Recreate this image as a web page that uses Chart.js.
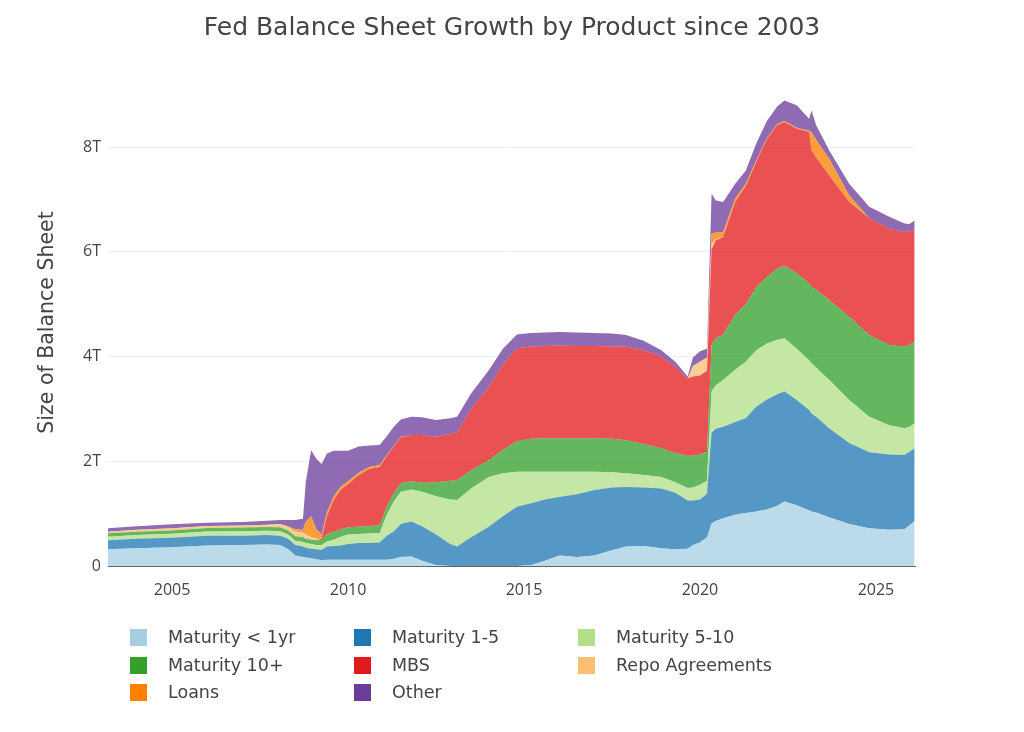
<!DOCTYPE html>
<html>
<head>
<meta charset="utf-8">
<script src="https://cdn.jsdelivr.net/npm/chart.js@4.4.1/dist/chart.umd.min.js"></script>
<style>
html,body{margin:0;padding:0;background:#fff;}
#wrap{position:relative;width:1024px;height:732px;overflow:hidden;}
#c{position:absolute;left:0;top:0;}
#legend{position:absolute;left:0;top:0;width:1024px;height:732px;pointer-events:none;font-family:"DejaVu Sans",Verdana,sans-serif;font-size:17.5px;color:#444;}
.item{position:absolute;display:flex;align-items:center;white-space:nowrap;height:22px;line-height:22px;}
.sw{width:17px;height:17px;margin-right:21px;flex:none;}
</style>
</head>
<body>
<div id="wrap"><canvas id="c" width="1024" height="732"></canvas><div id="legend"></div></div>
<script>
// Decimal-year positions of the sampled weeks
const dates = [2003.18, 2004.0, 2005.0, 2006.0, 2007.0, 2007.7, 2008.07, 2008.3, 2008.5, 2008.72,
  2008.8, 2008.95, 2009.1, 2009.25, 2009.4, 2009.6, 2009.8, 2010.0, 2010.3, 2010.6,
  2010.9, 2011.1, 2011.3, 2011.5, 2011.8, 2012.1, 2012.5, 2012.9, 2013.1, 2013.5,
  2014.0, 2014.4, 2014.8, 2015.2, 2015.6, 2016.0, 2016.5, 2017.0, 2017.5, 2017.9,
  2018.4, 2018.9, 2019.3, 2019.65, 2019.8, 2020.0, 2020.2, 2020.33, 2020.45, 2020.66,
  2021.0, 2021.3, 2021.6, 2021.9, 2022.2, 2022.4, 2022.75, 2023.1, 2023.17, 2023.3,
  2023.67, 2024.24, 2024.81, 2025.38, 2025.81, 2025.95, 2026.1];

// Values in trillions of dollars
const maturityUnder1 = [.32,.34,.36,.39,.40,.41,.40,.32,.20,.17,
  .16,.15,.13,.11,.12,.12,.12,.12,.12,.12,
  .12,.12,.14,.17,.18,.10,.02,0,0,0,
  0,0,0,.02,.10,.20,.17,.20,.30,.37,
  .38,.34,.32,.33,.40,.45,.55,.81,.86,.91,
  .98,1.01,1.04,1.08,1.15,1.23,1.16,1.06,1.04,1.02,
  .93,.80,.72,.69,.70,.78,.86];
const maturity1to5 = [.17,.18,.18,.19,.18,.18,.18,.20,.20,.20,
  .19,.18,.19,.20,.25,.26,.27,.30,.32,.32,
  .33,.46,.52,.63,.67,.66,.58,.42,.37,.55,
  .75,.95,1.13,1.18,1.17,1.12,1.20,1.25,1.20,1.14,
  1.12,1.14,1.08,.92,.85,.82,.83,1.74,1.76,1.75,
  1.77,1.81,2.0,2.10,2.13,2.10,2.01,1.92,1.87,1.83,
  1.70,1.55,1.45,1.44,1.42,1.40,1.39];
const maturity5to10 = [.07,.07,.075,.08,.085,.085,.085,.08,.08,.09,
  .09,.09,.08,.09,.10,.12,.17,.18,.17,.18,
  .18,.40,.57,.62,.61,.66,.73,.85,.89,.93,
  .95,.82,.67,.60,.53,.48,.43,.35,.29,.26,
  .24,.22,.20,.24,.25,.28,.25,.78,.83,.89,
  1.0,1.08,1.08,1.07,1.04,1.02,.98,.95,.96,.94,
  .92,.82,.68,.56,.51,.48,.47];
const maturity10plus = [.065,.065,.065,.065,.07,.07,.075,.08,.09,.09,
  .08,.08,.09,.09,.14,.16,.14,.14,.14,.14,
  .15,.16,.16,.16,.16,.17,.27,.36,.38,.35,
  .32,.45,.58,.63,.64,.64,.64,.64,.64,.63,
  .59,.55,.56,.61,.61,.58,.55,.89,.90,.87,
  1.05,1.10,1.21,1.27,1.36,1.39,1.44,1.47,1.46,1.49,
  1.53,1.59,1.56,1.53,1.56,1.56,1.56];
const mbs = [0,0,0,0,0,0,0,0,0,0,
  0,0,0,.03,.34,.61,.76,.82,.98,1.09,
  1.11,.96,.89,.88,.88,.91,.87,.89,.92,1.17,
  1.40,1.63,1.78,1.76,1.76,1.77,1.76,1.76,1.76,1.79,
  1.79,1.75,1.64,1.48,1.51,1.51,1.55,1.83,1.87,1.86,
  2.15,2.25,2.39,2.63,2.74,2.74,2.76,2.89,2.61,2.52,
  2.38,2.19,2.23,2.22,2.19,2.17,2.14];
const repoAgreements = [.03,.035,.04,.04,.04,.045,.06,.06,.09,.09,
  .08,.05,.03,0,0,0,0,0,0,0,
  0,0,0,0,0,0,0,0,0,0,
  0,0,0,0,0,0,0,0,0,0,
  0,0,0,0,.20,.26,.25,.10,.02,0,
  0,0,0,0,0,0,0,0,0,0,
  0,0,0,0,0,0,0];
const loans = [0,0,0,0,0,0,0,.02,.04,.05,
  .25,.40,.18,.08,.07,.07,.06,.06,.05,.04,
  .04,.02,.01,.01,0,0,0,0,0,0,
  0,0,0,0,0,0,0,0,0,0,
  0,0,0,0,0,0,0,.20,.13,.10,
  .07,.05,.03,.02,.02,.02,.02,.02,.35,.34,
  .32,.13,0,0,0,0,0];
const other = [.065,.07,.075,.06,.065,.075,.08,.12,.18,.21,
  .75,1.26,1.35,1.35,1.13,.86,.68,.58,.50,.41,
  .38,.36,.37,.33,.35,.34,.32,.30,.29,.30,
  .32,.30,.26,.26,.26,.26,.26,.25,.25,.22,
  .18,.12,.10,.04,.16,.20,.17,.76,.61,.57,
  .28,.25,.32,.33,.34,.39,.43,.23,.41,.28,
  .16,.22,.22,.23,.16,.14,.18];

const seriesNames = ['Maturity < 1yr','Maturity 1-5','Maturity 5-10','Maturity 10+','MBS','Repo Agreements','Loans','Other'];
const seriesValues = [maturityUnder1, maturity1to5, maturity5to10, maturity10plus, mbs, repoAgreements, loans, other];
const seriesColors = [[166,206,227],[31,120,180],[178,223,138],[51,160,44],[227,26,28],[253,191,111],[255,127,0],[106,61,154]];

const xTicks = [2005, 2010, 2015, 2020, 2025];
const yTicks = [0, 2, 4, 6, 8];

Chart.defaults.font.family = '"DejaVu Sans", Verdana, sans-serif';
Chart.defaults.color = '#444';
const tickFont = { family: '"Open Sans", sans-serif', size: 16 };

const datasets = seriesNames.map((name, i) => {
  const c = seriesColors[i];
  return {
    label: name,
    yAxisID: 'y',
    data: dates.map((d, k) => ({x: d, y: seriesValues[i][k]})),
    backgroundColor: `rgba(${c[0]},${c[1]},${c[2]},0.76)`,
    borderColor: `rgba(${c[0]},${c[1]},${c[2]},0.76)`,
    borderWidth: 0,
    pointRadius: 0,
    tension: 0,
    fill: i === 0 ? 'origin' : '-1'
  };
});

new Chart(document.getElementById('c'), {
  type: 'line',
  data: { datasets },
  options: {
    responsive: false,
    animation: false,
    events: [],
    layout: { padding: 0 },
    plugins: {
      legend: { display: false },
      tooltip: { enabled: false },
      title: {
        display: true,
        text: 'Fed Balance Sheet Growth by Product since 2003',
        color: '#444',
        font: { size: 25, weight: 'normal' },
        padding: { top: 13, bottom: 36 }
      }
    },
    scales: {
      x: {
        type: 'linear',
        min: 2003.18,
        max: 2026.11,
        afterFit: s => { s.height = 166; },
        afterBuildTicks: s => { s.ticks = xTicks.map(v => ({value: v})); },
        ticks: { font: tickFont, color: '#444', padding: 7, callback: v => String(v), maxRotation: 0 },
        grid: { display: false },
        border: { display: true, color: '#666', width: 1 }
      },
      y: {
        stacked: true,
        position: 'left',
        min: 0,
        max: 9.3,
        afterFit: s => { s.width = 108; },
        afterBuildTicks: s => { s.ticks = yTicks.map(v => ({value: v})); },
        ticks: { font: tickFont, color: '#444', padding: 7, callback: v => v === 0 ? '0' : v + 'T' },
        grid: { color: '#eeeeee', lineWidth: 1, drawTicks: false },
        border: { display: false },
        title: { display: true, text: 'Size of Balance Sheet', color: '#444', font: { size: 20.5 }, padding: { top: 35, bottom: 0 } }
      },
      yRight: {
        position: 'right',
        min: 0,
        max: 9.3,
        afterFit: s => { s.width = 109; },
        ticks: { display: false },
        grid: { display: false },
        border: { display: false }
      }
    }
  }
});

// HTML legend in three columns
const legendCols = [130, 354, 578];
const legendRows = [637, 665, 692];
const legendEl = document.getElementById('legend');
seriesNames.forEach((name, i) => {
  const c = seriesColors[i];
  const item = document.createElement('div');
  item.className = 'item';
  item.style.left = legendCols[i % 3] + 'px';
  item.style.top = (legendRows[Math.floor(i / 3)] - 11) + 'px';
  const sw = document.createElement('span');
  sw.className = 'sw';
  sw.style.background = `rgb(${c[0]},${c[1]},${c[2]})`;
  const tx = document.createElement('span');
  tx.textContent = name;
  item.appendChild(sw);
  item.appendChild(tx);
  legendEl.appendChild(item);
});
</script>
</body>
</html>
